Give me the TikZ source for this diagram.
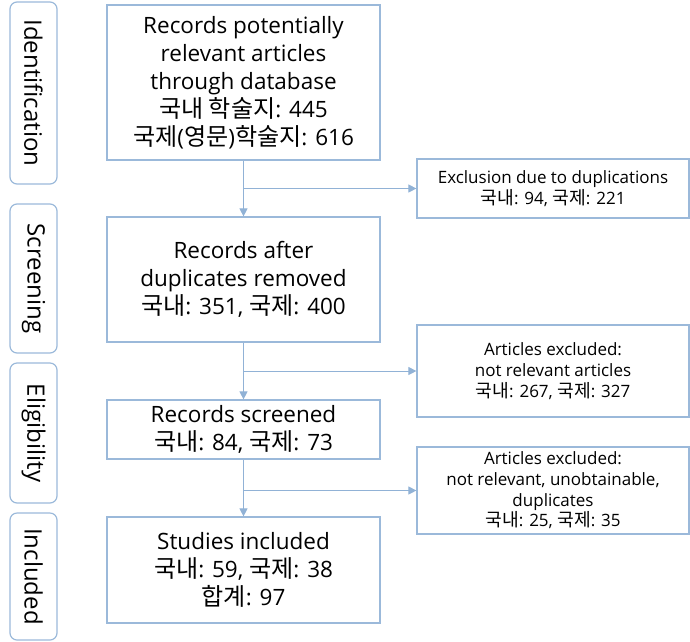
\documentclass[tikz,border=0pt]{standalone}
\usepackage{fontspec}
\setmainfont{Open Sans}
\newfontfamily\kr[Scale=1.07]{Noto Sans CJK KR}
\newcommand{\K}[1]{{\kr #1}}
\usetikzlibrary{arrows.meta}
\definecolor{bd}{RGB}{155,185,218}
\definecolor{ar}{RGB}{145,178,214}
\begin{document}
\begin{tikzpicture}[x=1pt,y=-1pt,
  mainbox/.style={draw=bd,line width=1.2pt,minimum width=273pt,align=center,font=\fontsize{22.5}{28}\selectfont,inner sep=0pt},
  sidebox/.style={draw=bd,line width=1.2pt,minimum width=272pt,align=center,font=\fontsize{17}{20.7}\selectfont,inner sep=0pt},
  tab/.style={draw=bd,line width=1.2pt,rounded corners=7pt,rotate=-90,minimum height=47pt,font=\fontsize{24}{26}\selectfont,inner sep=0pt},
  conn/.style={draw=ar,line width=1pt},
  arr/.style={conn,-{Triangle[length=8pt,width=8pt]}}]
\useasboundingbox (0,0) rectangle (690,641);
\node[tab,minimum width=182pt] (t1) at (33.5,93) {Identification};
\node[tab,minimum width=149pt] (t2) at (33.5,278.5) {Screening};
\node[tab,minimum width=140pt] (t3) at (33.5,433) {Eligibility};
\node[tab,minimum width=127pt] (t4) at (33.5,576.5) {Included};
\node[mainbox,minimum height=155pt] (b1) at (243.5,82.5) {Records potentially\\relevant articles\\through database\\\K{국내 학술지}: 445\\\K{국제}(\K{영문})\K{학술지}: 616};
\node[mainbox,minimum height=125pt] (b2) at (243.5,279.5) {Records after\\duplicates removed\\\K{국내}: 351, \K{국제}: 400};
\node[mainbox,minimum height=59pt] (b3) at (243.5,429.5) {Records screened\\\K{국내}: 84, \K{국제}: 73};
\node[mainbox,minimum height=106pt] (b4) at (243.5,570) {Studies included\\\K{국내}: 59, \K{국제}: 38\\\K{합계}: 97};
\node[sidebox,minimum height=59pt] (r1) at (553,188.5) {Exclusion due to duplications\\\K{국내}: 94, \K{국제}: 221};
\node[sidebox,minimum height=92pt] (r2) at (553,371) {Articles excluded:\\not relevant articles\\\K{국내}: 267, \K{국제}: 327};
\node[sidebox,minimum height=87pt] (r3) at (553,490.5) {Articles excluded:\\not relevant, unobtainable,\\duplicates\\\K{국내}: 25, \K{국제}: 35};
\coordinate (j1) at (243.5,188.5);
\coordinate (j2) at (243.5,371);
\coordinate (j3) at (243.5,490.5);
\draw[arr] (b1.south) -- (b2.north);
\draw[arr] (b2.south) -- (b3.north);
\draw[arr] (b3.south) -- (b4.north);
\draw[arr] (j1) -- (r1.west);
\draw[arr] (j2) -- (r2.west);
\draw[arr] (j3) -- (r3.west);
\end{tikzpicture}
\end{document}
